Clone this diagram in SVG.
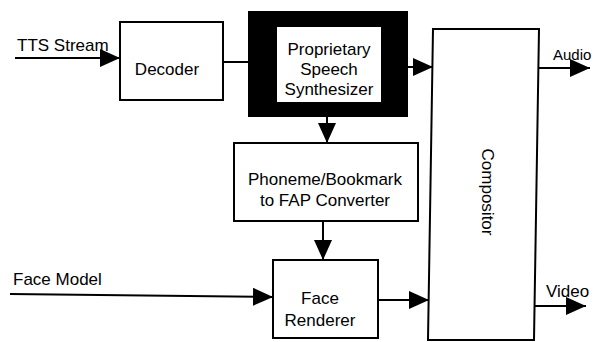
<svg xmlns="http://www.w3.org/2000/svg" width="594" height="342" viewBox="0 0 594 342">
<style>
  .box{fill:#fff;stroke:#000;stroke-width:2}
  .t{font-family:"Liberation Sans",Arial,sans-serif;font-size:17px;fill:#000;text-anchor:middle}
  .l{font-family:"Liberation Sans",Arial,sans-serif;font-size:17px;fill:#000}
  .c{fill:none;stroke:#000;stroke-width:2}
</style>
<defs>
  <marker id="ah" markerUnits="userSpaceOnUse" markerWidth="20" markerHeight="18" refX="20" refY="9" orient="auto">
    <path d="M0,0 L20,9 L0,18 z" fill="#000"/>
  </marker>
</defs>
<rect width="594" height="342" fill="#fff"/>
<g id="connectors">
  <path class="c" d="M15,58 H120" marker-end="url(#ah)"/>
  <path class="c" d="M223,62 H249"/>
  <path class="c" d="M408,67 H433" marker-end="url(#ah)"/>
  <path class="c" d="M327,117 V143" marker-end="url(#ah)"/>
  <path class="c" d="M323,221 V260" marker-end="url(#ah)"/>
  <path class="c" d="M10,294 L273,297" marker-end="url(#ah)"/>
  <path class="c" d="M378,300 H429" marker-end="url(#ah)"/>
  <path class="c" d="M539,68 H590" marker-end="url(#ah)"/>
  <path class="c" d="M534,306 H586" marker-end="url(#ah)"/>
</g>
<g id="tts-label"><text class="l" x="17" y="51">TTS Stream</text></g>
<g id="face-model-label"><text class="l" x="13" y="285">Face Model</text></g>
<g id="audio-label"><text class="l" x="553" y="60" style="font-size:15px">Audio</text></g>
<g id="video-label"><text class="l" x="546" y="297">Video</text></g>
<g id="decoder">
  <rect class="box" x="120" y="22" width="103" height="78"/>
  <text class="t" x="167" y="75">Decoder</text>
</g>
<g id="synthesizer">
  <rect x="248" y="11" width="160" height="106" fill="#000"/>
  <rect x="277" y="27" width="104" height="75" fill="#fff"/>
  <text class="t" x="329" y="55">Proprietary</text>
  <text class="t" x="329" y="75">Speech</text>
  <text class="t" x="329" y="95">Synthesizer</text>
</g>
<g id="converter">
  <rect class="box" x="234" y="143" width="184" height="78"/>
  <text class="t" x="325" y="185">Phoneme/Bookmark</text>
  <text class="t" x="325" y="206">to FAP Converter</text>
</g>
<g id="renderer">
  <rect class="box" x="273" y="260" width="105" height="78"/>
  <text class="t" x="320" y="304">Face</text>
  <text class="t" x="320" y="326">Renderer</text>
</g>
<g id="compositor">
  <polygon class="box" points="433,29 539,29 534,340 428,340"/>
  <text class="t" transform="translate(482,192) rotate(90)">Compositor</text>
</g>
</svg>
